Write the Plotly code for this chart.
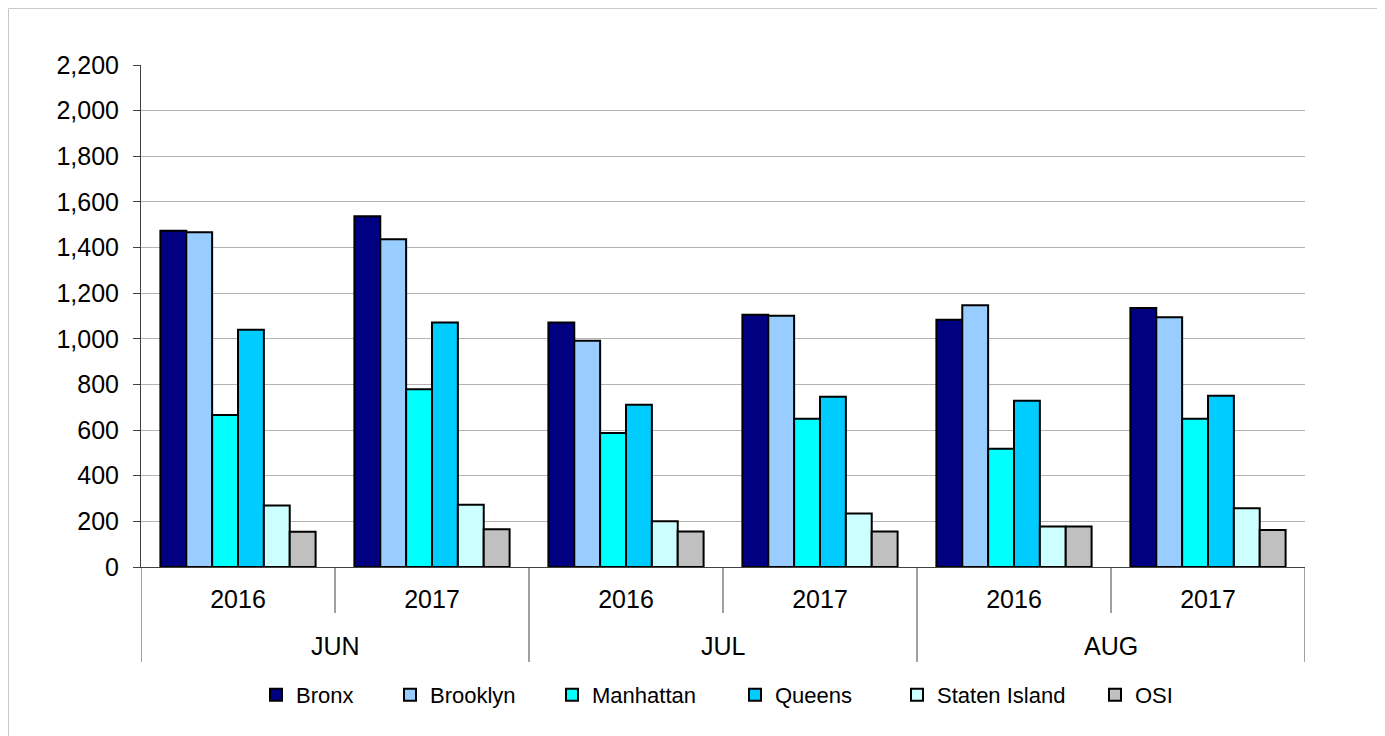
import plotly.graph_objects as go

months = ["JUN", "JUN", "JUL", "JUL", "AUG", "AUG"]
years = ["2016", "2017", "2016", "2017", "2016", "2017"]
categories = [f"{m} {y}" for m, y in zip(months, years)]
month_names = ["JUN", "JUL", "AUG"]

bronx = [1474, 1537, 1072, 1106, 1084, 1135]
brooklyn = [1467, 1436, 992, 1101, 1147, 1095]
manhattan = [666, 779, 587, 650, 518, 650]
queens = [1040, 1071, 711, 746, 729, 751]
staten_island = [269, 273, 200, 234, 177, 257]
osi = [155, 165, 156, 156, 177, 162]

series = [
    ("Bronx", bronx, "#000080", 89),
    ("Brooklyn", brooklyn, "#99CCFF", 117),
    ("Manhattan", manhattan, "#00FFFF", 138),
    ("Queens", queens, "#00CCFF", 117),
    ("Staten Island", staten_island, "#CCFFFF", 153),
    ("OSI", osi, "#C0C0C0", None),
]

OFF = 8  # page body margin
W, H = 1385 - OFF, 736 - OFF
L, T = 141 - OFF, 65 - OFF
R = W - (1305 - OFF)
B = H - (567 - OFF)
pw, ph = W - L - R, H - T - B


def px2x(p):
    return (p - OFF - L) / pw


def px2y(p):
    return (H - B - (p - OFF)) / ph


fig = go.Figure()
for name, vals, col, lw in series:
    kw = {}
    if lw:
        kw["legendwidth"] = lw
    fig.add_trace(go.Bar(
        name=name, x=categories, y=vals,
        marker=dict(color=col, line=dict(color="#000000", width=2)),
        **kw,
    ))

axis_col = "#404040"
shapes = []
# divider lines below the x axis
n = len(categories)
for i in range(n + 1):
    xpos = i - 0.5
    long_line = i == 0 or i == n or months[i] != months[i - 1]
    shapes.append(dict(type="line", xref="x", yref="paper", x0=xpos, x1=xpos,
                       y0=0, y1=px2y(662 if long_line else 613),
                       line=dict(color=axis_col, width=1)))
# outer border (top and left visible)
shapes.append(dict(type="line", xref="paper", yref="paper",
                   x0=(0.5 - L) / pw, x1=(W + 5 - L) / pw,
                   y0=(H - B - 0.5) / ph, y1=(H - B - 0.5) / ph,
                   line=dict(color="#C8C8C8", width=1)))
shapes.append(dict(type="line", xref="paper", yref="paper",
                   x0=(0.5 - L) / pw, x1=(0.5 - L) / pw,
                   y0=(H - B - 0.5) / ph, y1=-(B + 5) / ph,
                   line=dict(color="#C8C8C8", width=1)))

annotations = []
for m in month_names:
    idx = [i for i, mm in enumerate(months) if mm == m]
    annotations.append(dict(x=sum(idx) / len(idx), xref="x", y=px2y(646), yref="paper",
                            text=m, showarrow=False, yanchor="middle",
                            font=dict(size=25, color="#000000")))

fig.update_layout(
    width=W, height=H,
    margin=dict(l=L, r=R, t=T, b=B),
    paper_bgcolor="white", plot_bgcolor="white",
    font=dict(family="Liberation Sans, Arial, sans-serif", size=25, color="#000000"),
    barmode="group", bargap=0.2, bargroupgap=0,
    showlegend=True,
    legend=dict(orientation="h", x=px2x(256), xanchor="left", y=px2y(695), yanchor="middle",
                font=dict(size=22), itemwidth=30, traceorder="normal"),
    xaxis=dict(
        type="category", showline=True, linecolor=axis_col, linewidth=1,
        tickvals=categories, ticktext=years,
        ticks="outside", ticklen=10, tickcolor="rgba(0,0,0,0)",
        showgrid=False, tickfont=dict(size=25), range=[-0.5, n - 0.5],
    ),
    yaxis=dict(
        range=[0, 2200], dtick=200, tickformat=",", showline=True, linecolor=axis_col,
        linewidth=1, ticks="outside", ticklen=7, tickcolor=axis_col,
        ticklabelstandoff=9,
        showgrid=True, gridcolor="#B4B4B4", gridwidth=1, zeroline=False,
        tickfont=dict(size=25),
    ),
    shapes=shapes,
    annotations=annotations,
)

fig.write_html("out.html")
